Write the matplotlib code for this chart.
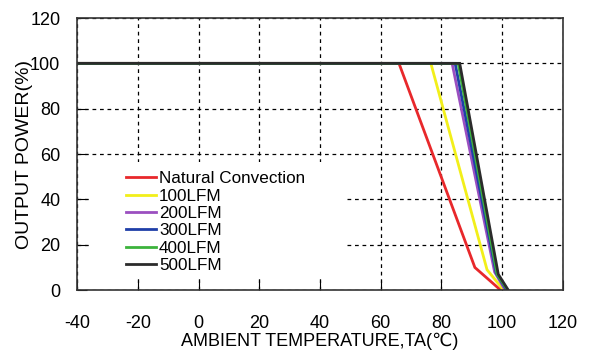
import matplotlib
matplotlib.use("Agg")
import matplotlib.pyplot as plt
import matplotlib.patches as mpatches

plt.rcParams["font.family"] = ["Liberation Sans", "DejaVu Sans"]
plt.rcParams["axes.unicode_minus"] = False

# derating curves: ambient temperature (C) vs output power (%)
labels = ["Natural Convection", "100LFM", "200LFM", "300LFM", "400LFM", "500LFM"]
colors = ["#e8282b", "#f2ef1a", "#9b4fc0", "#1f3fa8", "#3cb33c", "#2b2b2b"]
temps = [
    [-40, 66.0, 91.0, 99.5],
    [-40, 76.5, 95.0, 100.5],
    [-40, 83.5, 97.5, 101.0],
    [-40, 84.5, 98.0, 101.5],
    [-40, 85.5, 98.3, 101.8],
    [-40, 86.0, 98.7, 102.0],
]
powers = [
    [100, 100, 10, 0],
    [100, 100, 9, 0],
    [100, 100, 8, 0],
    [100, 100, 7.5, 0],
    [100, 100, 7, 0],
    [100, 100, 7, 0],
]
x_ticks = [-40, -20, 0, 20, 40, 60, 80, 100, 120]
y_ticks = [0, 20, 40, 60, 80, 100, 120]

fig = plt.figure(figsize=(5.97, 3.53), dpi=100)
ax = fig.add_axes([0.129, 0.178, 0.814, 0.771])
ax.set_axisbelow(True)

for t, p, c, lab in zip(temps, powers, colors, labels):
    ax.plot(t, p, color=c, lw=2.0, label=lab, solid_joinstyle="miter", zorder=3)

ax.set_xlim(-40, 120)
ax.set_ylim(0, 120)
ax.set_xticks(x_ticks)
ax.set_yticks(y_ticks)
ax.grid(True, color="black", linestyle=(0, (3, 3)), linewidth=0.9)
ax.tick_params(direction="in", length=7, labelsize=13)
ax.tick_params(axis="x", pad=18)
ax.tick_params(axis="y", pad=12)
for s in ax.spines.values():
    s.set_linewidth(1.2)
    s.set_color("#333333")
    s.set_zorder(4)

# white block behind the legend hides the grid there
ax.add_patch(mpatches.Rectangle((0.024, 0.05), 0.532, 0.42, transform=ax.transAxes,
                                facecolor="white", edgecolor="none", zorder=1))

ax.set_xlabel("AMBIENT TEMPERATURE,TA(℃)", fontsize=13, labelpad=0)
ax.set_ylabel("OUTPUT POWER(%)", fontsize=14, labelpad=-2)

leg = ax.legend(loc="upper left", bbox_to_anchor=(0.1, 0.437), frameon=False,
                fontsize=12.3, handlelength=1.8, handletextpad=0.15,
                labelspacing=0.14, borderpad=0, borderaxespad=0)

fig.savefig("out.png", dpi=100)
